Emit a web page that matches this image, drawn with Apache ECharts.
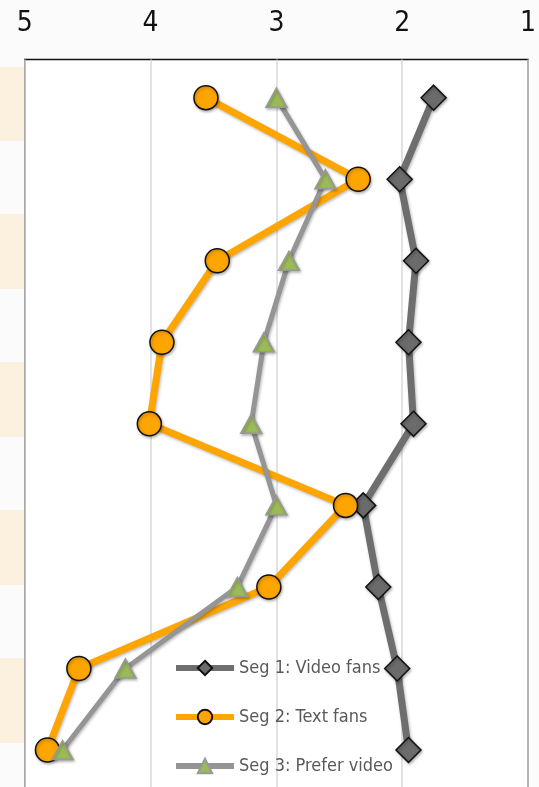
<!DOCTYPE html>
<html>
<head>
<meta charset="utf-8">
<script src="https://cdn.jsdelivr.net/npm/echarts@6/dist/echarts.min.js"></script>
<style>
html,body{margin:0;padding:0;background:#fbfbfb;height:787px;overflow:hidden;}
#chart{width:539px;height:810px;}
</style>
</head>
<body>
<div id="chart"></div>
<script>
// Row index (top to bottom), 9 rows
var rows = [0, 1, 2, 3, 4, 5, 6, 7, 8];
var seriesNames = ['Seg 1: Video fans', 'Seg 2: Text fans', 'Seg 3: Prefer video'];
var seg1 = [1.75, 2.02, 1.89, 1.95, 1.91, 2.31, 2.19, 2.04, 1.95];
var seg2 = [3.56, 2.35, 3.47, 3.91, 4.01, 2.45, 3.06, 4.57, 4.82];
var seg3 = [3.00, 2.61, 2.90, 3.10, 3.20, 3.00, 3.31, 4.20, 4.70];
var xTicks = [1, 2, 3, 4, 5];

// decorative background stripes at the left edge (pixel bands)
var stripeBands = [[67,141],[214,289],[362,437],[510,585],[658,743]];

function pairs(vals){ return vals.map(function(v,i){ return [v, rows[i]]; }); }

var shadow = {shadowBlur: 3, shadowColor: 'rgba(0,0,0,0.28)', shadowOffsetX: 1, shadowOffsetY: 1.5};
var narrow = '"DejaVu Sans Condensed", sans-serif';

var chart = echarts.init(document.getElementById('chart'), null, {renderer: 'canvas'});
var option = {
  backgroundColor: '#fbfbfb',
  animation: false,
  graphic: stripeBands.map(function(b){
    return {type: 'rect', z: -10, shape: {x: 0, y: b[0], width: 24, height: b[1]-b[0]}, style: {fill: '#fcf1df'}};
  }),
  grid: {
    left: 24.8, right: 4.2, top: 59.5, bottom: 10,
    show: true, backgroundColor: '#ffffff', borderColor: '#111', borderWidth: 1.5
  },
  xAxis: {
    type: 'value', position: 'top', inverse: true, min: 1, max: 5, interval: 1,
    axisLine: {show: false}, axisTick: {show: false},
    splitLine: {show: true, lineStyle: {color: '#d9d9d9', width: 1.5}},
    axisLabel: {
      margin: 22, fontSize: 28, color: '#111',
      fontFamily: narrow,
      formatter: function(v){ return xTicks.indexOf(v) >= 0 ? String(v) : ''; }
    }
  },
  yAxis: {
    type: 'value', inverse: true, min: -0.468, max: 8.613,
    show: false, splitLine: {show: false}
  },
  legend: {
    orient: 'vertical', left: 173, top: 657, padding: 0,
    itemWidth: 58, itemHeight: 18, itemGap: 27,
    lineStyle: {width: 6},
    textStyle: {fontFamily: narrow, fontSize: 18, lineHeight: 22, color: '#595959'},
    data: seriesNames
  },
  series: [
    {
      name: seriesNames[0], type: 'line', data: pairs(seg1),
      symbol: 'diamond', symbolSize: 25,
      lineStyle: Object.assign({color: '#6e6e6e', width: 7}, shadow),
      itemStyle: Object.assign({color: '#6b6b6b', borderColor: '#111', borderWidth: 1.5}, shadow),
      z: 2
    },
    {
      name: seriesNames[1], type: 'line', data: pairs(seg2),
      symbol: 'circle', symbolSize: 24,
      lineStyle: Object.assign({color: '#FFA500', width: 7}, shadow),
      itemStyle: Object.assign({color: '#FFA500', borderColor: '#111', borderWidth: 1.5}, shadow),
      z: 3
    },
    {
      name: seriesNames[2], type: 'line', data: pairs(seg3),
      symbol: 'triangle', symbolSize: [21, 19],
      lineStyle: Object.assign({color: '#959595', width: 5}, shadow),
      itemStyle: Object.assign({color: '#9BBB59', borderColor: '#999999', borderWidth: 1.5}, shadow),
      z: 4
    }
  ]
};
chart.setOption(option);
</script>
</body>
</html>
